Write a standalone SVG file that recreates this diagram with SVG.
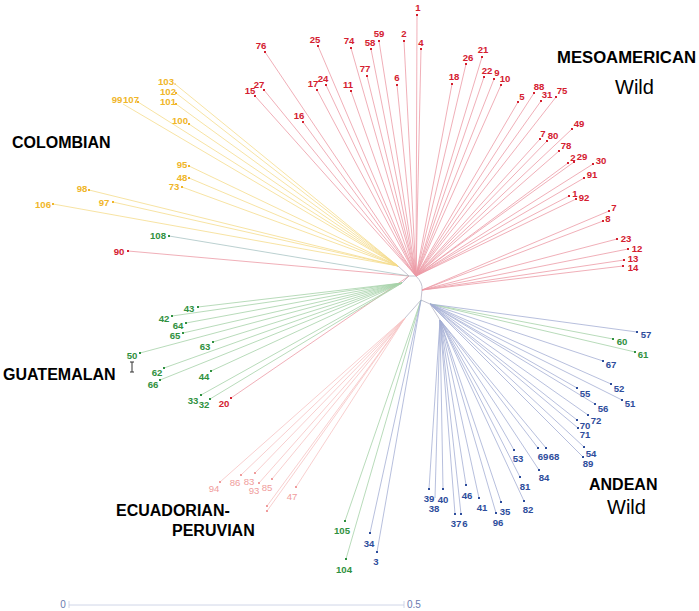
<svg xmlns="http://www.w3.org/2000/svg" width="699" height="611" viewBox="0 0 699 611">
<style>
text{font-family:"Liberation Sans",Arial,sans-serif}
.t{font-size:9.6px;font-weight:bold;text-anchor:middle}
.r{fill:#d4202f}.y{fill:#f0b629}.g{fill:#2f9140}.b{fill:#2d4d9c}.p{fill:#f09c9c;font-weight:normal}
.h{font-size:16px;font-weight:bold;fill:#000}
.w{font-size:20px;fill:#000}
line{stroke-width:0.8}
.lr{stroke:#ec9aa6}.ly{stroke:#f5dc8c}.lg{stroke:#a6d2a8}.lb{stroke:#a5aed4}.lp{stroke:#f6c3c3}.lk{stroke:#b4b4c4}
</style>
<rect width="699" height="611" fill="#fff"/>
<g id="connectors" fill="none">
<path class="lk" d="M398 266 L409 276 L416 276 Q423 283 422 290 L421 300 L430 304 L440 320 M402 283 L409 276 M421 300 L405 318" stroke-width="0.8"/>
<g class="lr">
<line x1="416" y1="276" x2="417" y2="15"/><line x1="416" y1="276" x2="404" y2="41"/><line x1="416" y1="276" x2="421" y2="49"/>
<line x1="416" y1="276" x2="379" y2="41"/><line x1="416" y1="276" x2="371" y2="49"/><line x1="416" y1="276" x2="351" y2="48"/>
<line x1="416" y1="276" x2="318" y2="46"/><line x1="416" y1="276" x2="265" y2="52"/><line x1="416" y1="276" x2="367" y2="76"/>
<line x1="416" y1="276" x2="397" y2="85"/><line x1="416" y1="276" x2="351" y2="91"/><line x1="416" y1="276" x2="326" y2="85"/>
<line x1="416" y1="276" x2="317" y2="90"/><line x1="416" y1="276" x2="264" y2="90"/><line x1="416" y1="276" x2="255" y2="96"/>
<line x1="416" y1="276" x2="303" y2="122"/><line x1="416" y1="276" x2="452" y2="84"/><line x1="416" y1="276" x2="466" y2="64"/>
<line x1="416" y1="276" x2="482" y2="57"/><line x1="416" y1="276" x2="484" y2="77"/><line x1="416" y1="276" x2="494" y2="79"/>
<line x1="416" y1="276" x2="501" y2="85"/><line x1="416" y1="276" x2="518" y2="102"/><line x1="416" y1="276" x2="534" y2="93"/>
<line x1="416" y1="276" x2="541" y2="101"/><line x1="416" y1="276" x2="556" y2="97"/><line x1="416" y1="276" x2="572" y2="129"/>
<line x1="416" y1="276" x2="540" y2="139"/><line x1="416" y1="276" x2="547" y2="141"/><line x1="416" y1="276" x2="559" y2="151"/>
<line x1="416" y1="276" x2="568" y2="163"/><line x1="416" y1="276" x2="574" y2="162"/><line x1="416" y1="276" x2="593" y2="164"/>
<line x1="416" y1="276" x2="584" y2="178"/><line x1="416" y1="276" x2="569" y2="196"/><line x1="416" y1="276" x2="576" y2="199"/>
<line x1="422" y1="290" x2="609" y2="211"/><line x1="422" y1="290" x2="603" y2="221"/><line x1="422" y1="290" x2="617" y2="239"/>
<line x1="422" y1="290" x2="628" y2="249"/><line x1="422" y1="290" x2="624" y2="260"/><line x1="422" y1="290" x2="623" y2="266"/>
<line x1="409" y1="276" x2="128" y2="251"/><line x1="409" y1="276" x2="231" y2="398"/>
</g>
<g class="ly">
<line x1="398" y1="266" x2="175" y2="84"/><line x1="398" y1="266" x2="176" y2="93"/><line x1="398" y1="266" x2="176" y2="104"/>
<line x1="398" y1="266" x2="123" y2="104"/><line x1="398" y1="266" x2="138" y2="102"/><line x1="398" y1="266" x2="189" y2="124"/>
<line x1="398" y1="266" x2="189" y2="166"/><line x1="398" y1="266" x2="189" y2="178"/><line x1="398" y1="266" x2="182" y2="187"/>
<line x1="398" y1="266" x2="89" y2="190"/><line x1="398" y1="266" x2="113" y2="202"/><line x1="398" y1="266" x2="53" y2="204"/>
</g>
<g class="lg">
<line x1="409" y1="276" x2="169" y2="236" stroke="#a9c4c4"/>
<line x1="402" y1="283" x2="198" y2="307"/><line x1="402" y1="283" x2="172" y2="316"/><line x1="402" y1="283" x2="186" y2="323"/>
<line x1="402" y1="283" x2="183" y2="333"/><line x1="402" y1="283" x2="213" y2="342"/><line x1="402" y1="283" x2="140" y2="353"/>
<line x1="402" y1="283" x2="164" y2="368"/><line x1="402" y1="283" x2="160" y2="380"/><line x1="402" y1="283" x2="211" y2="371"/>
<line x1="402" y1="283" x2="201" y2="395"/><line x1="402" y1="283" x2="210" y2="399"/>
<line x1="421" y1="300" x2="345" y2="521"/><line x1="421" y1="300" x2="346" y2="559"/>
<line x1="430" y1="304" x2="613" y2="339"/><line x1="430" y1="304" x2="635" y2="352"/>
</g>
<g class="lp">
<line x1="405" y1="318" x2="220" y2="482"/><line x1="405" y1="318" x2="241" y2="475"/><line x1="405" y1="318" x2="255" y2="473"/>
<line x1="405" y1="318" x2="259" y2="483"/><line x1="405" y1="318" x2="272" y2="479"/><line x1="405" y1="318" x2="296" y2="487"/>
<line x1="405" y1="318" x2="267" y2="506"/><line x1="405" y1="318" x2="267" y2="511"/>
</g>
<g class="lb">
<line x1="421" y1="300" x2="370" y2="533"/><line x1="421" y1="300" x2="377" y2="552"/>
<line x1="430" y1="304" x2="637" y2="332"/><line x1="430" y1="304" x2="603" y2="361"/><line x1="430" y1="304" x2="611" y2="384"/>
<line x1="430" y1="304" x2="622" y2="400"/><line x1="430" y1="304" x2="577" y2="388"/><line x1="430" y1="304" x2="595" y2="404"/>
<line x1="430" y1="304" x2="588" y2="415"/><line x1="430" y1="304" x2="577" y2="420"/><line x1="430" y1="304" x2="578" y2="428"/>
<line x1="430" y1="304" x2="584" y2="447"/><line x1="430" y1="304" x2="583" y2="457"/>
<line x1="440" y1="320" x2="538" y2="448"/><line x1="440" y1="320" x2="546" y2="448"/><line x1="440" y1="320" x2="514" y2="450"/>
<line x1="440" y1="320" x2="539" y2="470"/><line x1="440" y1="320" x2="520" y2="477"/><line x1="440" y1="320" x2="524" y2="501"/>
<line x1="440" y1="320" x2="501" y2="502"/><line x1="440" y1="320" x2="496" y2="513"/><line x1="440" y1="320" x2="479" y2="498"/>
<line x1="440" y1="320" x2="466" y2="485"/><line x1="440" y1="320" x2="429" y2="489"/><line x1="440" y1="320" x2="443" y2="489"/>
<line x1="440" y1="320" x2="435" y2="498"/><line x1="440" y1="320" x2="455" y2="514"/><line x1="440" y1="320" x2="461" y2="514"/>
</g>
</g>
<g id="nodes">
<g id="n1" class="r"><rect x="416" y="14" width="2" height="2"/><text class="t r" x="418" y="11">1</text></g>
<g id="n2" class="r"><rect x="403" y="40" width="2" height="2"/><text class="t r" x="404" y="37">2</text></g>
<g id="n4" class="r"><rect x="420" y="48" width="2" height="2"/><text class="t r" x="421" y="46">4</text></g>
<g id="n59" class="r"><rect x="378" y="40" width="2" height="2"/><text class="t r" x="379" y="37">59</text></g>
<g id="n58" class="r"><rect x="370" y="48" width="2" height="2"/><text class="t r" x="370" y="46">58</text></g>
<g id="n74" class="r"><rect x="350" y="47" width="2" height="2"/><text class="t r" x="349" y="44">74</text></g>
<g id="n25" class="r"><rect x="317" y="45" width="2" height="2"/><text class="t r" x="315" y="43">25</text></g>
<g id="n76" class="r"><rect x="264" y="51" width="2" height="2"/><text class="t r" x="261" y="49">76</text></g>
<g id="n77" class="r"><rect x="366" y="75" width="2" height="2"/><text class="t r" x="365" y="72">77</text></g>
<g id="n6a" class="r"><rect x="396" y="84" width="2" height="2"/><text class="t r" x="397" y="81">6</text></g>
<g id="n11" class="r"><rect x="350" y="90" width="2" height="2"/><text class="t r" x="348" y="88">11</text></g>
<g id="n24" class="r"><rect x="325" y="84" width="2" height="2"/><text class="t r" x="323" y="82">24</text></g>
<g id="n17" class="r"><rect x="316" y="89" width="2" height="2"/><text class="t r" x="313" y="87">17</text></g>
<g id="n27" class="r"><rect x="263" y="89" width="2" height="2"/><text class="t r" x="259" y="88">27</text></g>
<g id="n15" class="r"><rect x="254" y="95" width="2" height="2"/><text class="t r" x="250" y="94">15</text></g>
<g id="n16" class="r"><rect x="302" y="121" width="2" height="2"/><text class="t r" x="299" y="119">16</text></g>
<g id="n18" class="r"><rect x="451" y="83" width="2" height="2"/><text class="t r" x="454" y="80">18</text></g>
<g id="n26" class="r"><rect x="465" y="63" width="2" height="2"/><text class="t r" x="468" y="61">26</text></g>
<g id="n21" class="r"><rect x="481" y="56" width="2" height="2"/><text class="t r" x="483" y="53">21</text></g>
<g id="n22" class="r"><rect x="483" y="76" width="2" height="2"/><text class="t r" x="487" y="74">22</text></g>
<g id="n9" class="r"><rect x="493" y="78" width="2" height="2"/><text class="t r" x="497" y="76">9</text></g>
<g id="n10" class="r"><rect x="500" y="84" width="2" height="2"/><text class="t r" x="505" y="82">10</text></g>
<g id="n5" class="r"><rect x="517" y="101" width="2" height="2"/><text class="t r" x="522" y="100">5</text></g>
<g id="n88" class="r"><rect x="533" y="92" width="2" height="2"/><text class="t r" x="539" y="90">88</text></g>
<g id="n31" class="r"><rect x="540" y="100" width="2" height="2"/><text class="t r" x="547" y="98">31</text></g>
<g id="n75" class="r"><rect x="555" y="96" width="2" height="2"/><text class="t r" x="562" y="94">75</text></g>
<g id="n49" class="r"><rect x="571" y="128" width="2" height="2"/><text class="t r" x="579" y="127">49</text></g>
<g id="n7a" class="r"><rect x="539" y="138" width="2" height="2"/><text class="t r" x="543" y="137">7</text></g>
<g id="n80" class="r"><rect x="546" y="140" width="2" height="2"/><text class="t r" x="553" y="139">80</text></g>
<g id="n78" class="r"><rect x="558" y="150" width="2" height="2"/><text class="t r" x="566" y="149">78</text></g>
<g id="n2b" class="r"><rect x="567" y="162" width="2" height="2"/><text class="t r" x="573" y="161">2</text></g>
<g id="n29" class="r"><rect x="573" y="161" width="2" height="2"/><text class="t r" x="582" y="160">29</text></g>
<g id="n30" class="r"><rect x="592" y="163" width="2" height="2"/><text class="t r" x="601" y="164">30</text></g>
<g id="n91" class="r"><rect x="583" y="177" width="2" height="2"/><text class="t r" x="592" y="178">91</text></g>
<g id="n1b" class="r"><rect x="568" y="195" width="2" height="2"/><text class="t r" x="575" y="197">1</text></g>
<g id="n92" class="r"><rect x="575" y="198" width="2" height="2"/><text class="t r" x="584" y="201">92</text></g>
<g id="n7b" class="r"><rect x="608" y="210" width="2" height="2"/><text class="t r" x="614" y="211">7</text></g>
<g id="n8" class="r"><rect x="602" y="220" width="2" height="2"/><text class="t r" x="608" y="222">8</text></g>
<g id="n23" class="r"><rect x="616" y="238" width="2" height="2"/><text class="t r" x="626" y="242">23</text></g>
<g id="n12" class="r"><rect x="627" y="248" width="2" height="2"/><text class="t r" x="637" y="252">12</text></g>
<g id="n13" class="r"><rect x="623" y="259" width="2" height="2"/><text class="t r" x="633" y="262">13</text></g>
<g id="n14" class="r"><rect x="622" y="265" width="2" height="2"/><text class="t r" x="633" y="271">14</text></g>
<g id="n90" class="r"><rect x="127" y="250" width="2" height="2"/><text class="t r" x="119" y="255">90</text></g>
<g id="n20" class="r"><rect x="230" y="397" width="2" height="2"/><text class="t r" x="224" y="407">20</text></g>
<g id="n103" class="y"><rect x="174" y="83" width="2" height="2" opacity="0.4"/><text class="t y" x="166" y="84.5">103</text></g>
<g id="n102" class="y"><rect x="175" y="92" width="2" height="2"/><text class="t y" x="168" y="94.5">102</text></g>
<g id="n101" class="y"><rect x="175" y="103" width="2" height="2"/><text class="t y" x="168" y="104.5">101</text></g>
<g id="n99" class="y"><text class="t y" x="117" y="103">99</text></g>
<g id="n107" class="y"><rect x="137" y="101" width="2" height="2"/><text class="t y" x="131" y="103">107</text></g>
<g id="n100" class="y"><rect x="188" y="123" width="2" height="2"/><text class="t y" x="180" y="124">100</text></g>
<g id="n95" class="y"><rect x="188" y="165" width="2" height="2"/><text class="t y" x="182" y="168">95</text></g>
<g id="n48" class="y"><rect x="188" y="177" width="2" height="2"/><text class="t y" x="182" y="181">48</text></g>
<g id="n73" class="y"><rect x="181" y="186" width="2" height="2"/><text class="t y" x="174" y="190">73</text></g>
<g id="n98" class="y"><rect x="88" y="189" width="2" height="2"/><text class="t y" x="82" y="192">98</text></g>
<g id="n97" class="y"><rect x="112" y="201" width="2" height="2"/><text class="t y" x="104" y="206">97</text></g>
<g id="n106" class="y"><rect x="52" y="203" width="2" height="2"/><text class="t y" x="43" y="208">106</text></g>
<g id="n108" class="g"><rect x="168" y="235" width="2" height="2"/><text class="t g" x="158" y="239">108</text></g>
<g id="n43" class="g"><rect x="197" y="306" width="2" height="2"/><text class="t g" x="189" y="312">43</text></g>
<g id="n42" class="g"><rect x="171" y="315" width="2" height="2"/><text class="t g" x="164" y="322">42</text></g>
<g id="n64" class="g"><rect x="185" y="322" width="2" height="2"/><text class="t g" x="178" y="329">64</text></g>
<g id="n65" class="g"><rect x="182" y="332" width="2" height="2"/><text class="t g" x="175" y="339">65</text></g>
<g id="n63" class="g"><rect x="212" y="341" width="2" height="2"/><text class="t g" x="205" y="350">63</text></g>
<g id="n50" class="g"><rect x="139" y="352" width="2" height="2"/><text class="t g" x="132" y="359">50</text></g>
<g id="n62" class="g"><rect x="163" y="367" width="2" height="2"/><text class="t g" x="157" y="376">62</text></g>
<g id="n66" class="g"><rect x="159" y="379" width="2" height="2"/><text class="t g" x="153" y="388">66</text></g>
<g id="n44" class="g"><rect x="210" y="370" width="2" height="2"/><text class="t g" x="204" y="380">44</text></g>
<g id="n33" class="g"><rect x="200" y="394" width="2" height="2"/><text class="t g" x="193" y="404">33</text></g>
<g id="n32" class="g"><rect x="209" y="398" width="2" height="2"/><text class="t g" x="204" y="408">32</text></g>
<g id="mark"><path d="M130 362 H134 M132 362 V372 M130 372 H134" stroke="#333" stroke-width="1" fill="none"/></g>
<g id="n94" class="p"><rect x="219" y="481" width="2" height="2"/><text class="t p" x="214" y="492">94</text></g>
<g id="n86" class="p"><rect x="240" y="474" width="2" height="2"/><text class="t p" x="235" y="486">86</text></g>
<g id="n83" class="p"><rect x="254" y="472" width="2" height="2"/><text class="t p" x="249" y="485">83</text></g>
<g id="n93" class="p"><rect x="258" y="482" width="2" height="2"/><text class="t p" x="254" y="494">93</text></g>
<g id="n85" class="p"><rect x="271" y="478" width="2" height="2"/><text class="t p" x="267" y="491">85</text></g>
<g id="n47" class="p"><rect x="295" y="486" width="2" height="2"/><text class="t p" x="292" y="500">47</text></g>
<g id="nx1" class="p"><rect x="266" y="505" width="2" height="2"/></g>
<g id="nx2" class="p"><rect x="266" y="510" width="2" height="2"/></g>
<g id="n105" class="g"><rect x="344" y="520" width="2" height="2"/><text class="t g" x="342" y="534">105</text></g>
<g id="n104" class="g"><rect x="345" y="558" width="2" height="2"/><text class="t g" x="344" y="573">104</text></g>
<g id="n34" class="b"><rect x="369" y="532" width="2" height="2"/><text class="t b" x="369" y="547">34</text></g>
<g id="n3" class="b"><rect x="376" y="551" width="2" height="2"/><text class="t b" x="376" y="565">3</text></g>
<g id="n57" class="b"><rect x="636" y="331" width="2" height="2"/><text class="t b" x="646" y="338">57</text></g>
<g id="n60" class="g"><rect x="612" y="338" width="2" height="2"/><text class="t g" x="622" y="345">60</text></g>
<g id="n61" class="g"><rect x="634" y="351" width="2" height="2"/><text class="t g" x="643" y="358">61</text></g>
<g id="n67" class="b"><rect x="602" y="360" width="2" height="2"/><text class="t b" x="611" y="368">67</text></g>
<g id="n52" class="b"><rect x="610" y="383" width="2" height="2"/><text class="t b" x="619" y="392">52</text></g>
<g id="n51" class="b"><rect x="621" y="399" width="2" height="2"/><text class="t b" x="630" y="407">51</text></g>
<g id="n55" class="b"><rect x="576" y="387" width="2" height="2"/><text class="t b" x="585" y="397">55</text></g>
<g id="n56" class="b"><rect x="594" y="403" width="2" height="2"/><text class="t b" x="603" y="412">56</text></g>
<g id="n72" class="b"><rect x="587" y="414" width="2" height="2"/><text class="t b" x="596" y="424">72</text></g>
<g id="n70" class="b"><rect x="576" y="419" width="2" height="2"/><text class="t b" x="585" y="429">70</text></g>
<g id="n71" class="b"><rect x="577" y="427" width="2" height="2"/><text class="t b" x="585" y="438">71</text></g>
<g id="n54" class="b"><rect x="583" y="446" width="2" height="2"/><text class="t b" x="591" y="457">54</text></g>
<g id="n89" class="b"><rect x="582" y="456" width="2" height="2"/><text class="t b" x="588" y="467">89</text></g>
<g id="n69" class="b"><rect x="537" y="447" width="2" height="2"/><text class="t b" x="543" y="460">69</text></g>
<g id="n68" class="b"><rect x="545" y="447" width="2" height="2"/><text class="t b" x="554" y="460">68</text></g>
<g id="n53" class="b"><rect x="513" y="449" width="2" height="2"/><text class="t b" x="518" y="462">53</text></g>
<g id="n84" class="b"><rect x="538" y="469" width="2" height="2"/><text class="t b" x="544" y="481">84</text></g>
<g id="n81" class="b"><rect x="519" y="476" width="2" height="2"/><text class="t b" x="525" y="490">81</text></g>
<g id="n82" class="b"><rect x="523" y="500" width="2" height="2"/><text class="t b" x="528" y="513">82</text></g>
<g id="n35" class="b"><rect x="500" y="501" width="2" height="2"/><text class="t b" x="505" y="515">35</text></g>
<g id="n96" class="b"><rect x="495" y="512" width="2" height="2"/><text class="t b" x="498" y="526">96</text></g>
<g id="n41" class="b"><rect x="478" y="497" width="2" height="2"/><text class="t b" x="482" y="511">41</text></g>
<g id="n46" class="b"><rect x="465" y="484" width="2" height="2"/><text class="t b" x="467" y="499">46</text></g>
<g id="n39" class="b"><rect x="428" y="488" width="2" height="2"/><text class="t b" x="429" y="502">39</text></g>
<g id="n40" class="b"><rect x="442" y="488" width="2" height="2"/><text class="t b" x="443" y="503">40</text></g>
<g id="n38" class="b"><text class="t b" x="434" y="512">38</text></g>
<g id="n37" class="b"><rect x="454" y="513" width="2" height="2"/><text class="t b" x="456" y="527">37</text></g>
<g id="n6b" class="b"><rect x="460" y="513" width="2" height="2"/><text class="t b" x="465" y="527">6</text></g>
</g>
<g id="group-labels">
<text class="h" x="12" y="148">COLOMBIAN</text>
<text class="h" x="3" y="380">GUATEMALAN</text>
<text class="h" x="557" y="63" textLength="139" lengthAdjust="spacingAndGlyphs">MESOAMERICAN</text>
<text class="w" x="615" y="94">Wild</text>
<text class="h" x="589" y="490">ANDEAN</text>
<text class="w" x="607" y="514">Wild</text>
<text class="h" x="116" y="516">ECUADORIAN-</text>
<text class="h" x="172" y="536">PERUVIAN</text>
</g>
<g id="scale">
<line x1="69" y1="605" x2="404" y2="605" stroke="#c4cce2" stroke-width="1"/>
<line x1="69" y1="601" x2="69" y2="608" stroke="#c4cce2" stroke-width="1"/>
<line x1="404" y1="601" x2="404" y2="608" stroke="#c4cce2" stroke-width="1"/>
<text x="63" y="608" font-size="10" fill="#6a7ab0" text-anchor="middle">0</text>
<text x="407" y="608" font-size="10" fill="#6a7ab0">0.5</text>
</g>
</svg>
